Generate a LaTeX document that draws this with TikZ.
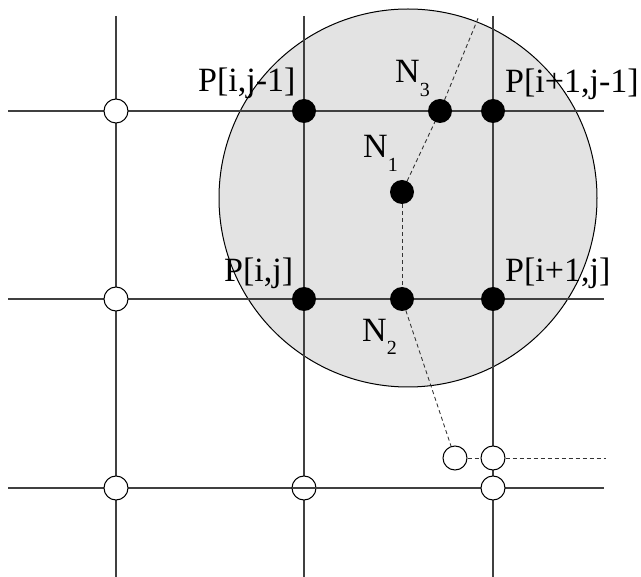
\documentclass[tikz,border=0pt]{standalone}
\usepackage{fontspec}
\setmainfont{Liberation Serif}
\begin{document}
\begin{tikzpicture}[x=1pt,y=-1pt,
  gridline/.style={line width=1.2pt,draw=black!75},
  fulldot/.style={circle,fill=black,inner sep=0pt,minimum size=24pt},
  opendot/.style={circle,draw=black,fill=white,line width=1pt,inner sep=0pt,minimum size=24pt},
  dashline/.style={line width=0.9pt,draw=black!80,dash pattern=on 4pt off 3pt},
  lbl/.style={anchor=base west,inner sep=0pt,font=\fontsize{34}{40}\selectfont},
]
\useasboundingbox (0,0) rectangle (641,577);
% shaded disc
\node[circle,draw=black,fill=black!11,line width=1pt,inner sep=0pt,minimum size=378pt] (disc) at (408,198) {};
% grid ends
\coordinate (v1t) at (116,16); \coordinate (v1b) at (116,577);
\coordinate (v2t) at (304,16); \coordinate (v2b) at (304,577);
\coordinate (v3t) at (493,16); \coordinate (v3b) at (493,577);
\coordinate (h1l) at (8,111); \coordinate (h1r) at (604,111);
\coordinate (h2l) at (8,299); \coordinate (h2r) at (604,299);
\coordinate (h3l) at (8,488); \coordinate (h3r) at (604,488);
\draw[gridline] (v1t) -- (v1b) (v2t) -- (v2b) (v3t) -- (v3b)
  (h1l) -- (h1r) (h2l) -- (h2r) (h3l) -- (h3r);
% dashed path ends
\coordinate (dtop) at (479,16);
\coordinate (dright) at (606,458);
% filled points
\node[fulldot] (pa) at (304,111) {};
\node[fulldot] (n3) at (440,111) {};
\node[fulldot] (pb) at (493,111) {};
\node[fulldot] (n1) at (402,192) {};
\node[fulldot] (pc) at (304,299) {};
\node[fulldot] (n2) at (402,299) {};
\node[fulldot] (pd) at (493,299) {};
% open points
\node[opendot] (o1) at (116,111) {};
\node[opendot] (o2) at (116,299) {};
\node[opendot] (o3) at (116,488) {};
\node[opendot] (o4) at (304,488) {};
\node[opendot] (o5) at (493,488) {};
\node[opendot] (o6) at (455,458) {};
\node[opendot] (o7) at (493,458) {};
\draw[gridline] (o4.west) -- (o4.east);
% dashed connectors
\draw[dashline] (n1) -- (n3) -- (dtop);
\draw[dashline] (n1) -- (n2);
\draw[dashline] (n2) -- (o6);
\draw[dashline] (o6) -- (o7);
\draw[dashline] (o7) -- (dright);
% labels
\node[lbl] (lpa) at (198,92) {P[i,j-1]};
\node[lbl] (lpb) at (505,93) {P[i+1,j-1]};
\node[lbl] (lpc) at (224,282) {P[i,j]};
\node[lbl] (lpd) at (505,282) {P[i+1,j]};
\node[lbl] (ln1) at (363,158) {N\raisebox{-14pt}{\fontsize{20}{20}\selectfont 1}};
\node[lbl] (ln2) at (362,342) {N\raisebox{-13pt}{\fontsize{20}{20}\selectfont 2}};
\node[lbl] (ln3) at (395,83) {N\raisebox{-14pt}{\fontsize{20}{20}\selectfont 3}};
\end{tikzpicture}
\end{document}
